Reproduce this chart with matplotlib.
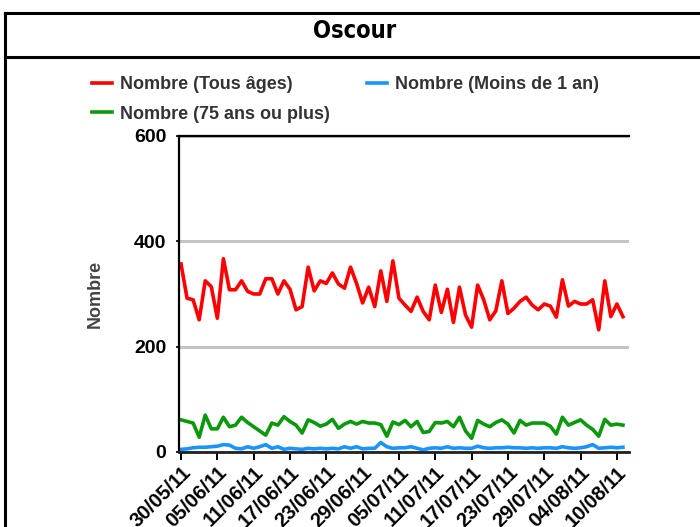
import numpy as np
import pandas as pd
import matplotlib
matplotlib.use("Agg")
import matplotlib.pyplot as plt
import matplotlib.dates as mdates
from matplotlib.lines import Line2D

plt.rcParams['font.family'] = ['Liberation Sans', 'DejaVu Sans']

# donnees journalieres, 30/05/11 -> 11/08/11
dates = pd.date_range('2011-05-30', periods=74, freq='D')

tous_ages = [357, 292, 289, 251, 325, 314, 254, 367, 308, 308,
             325, 305, 300, 300, 329, 329, 300, 325, 309, 270,
             276, 351, 306, 325, 320, 340, 319, 311, 351, 320,
             283, 313, 276, 344, 286, 363, 292,
             279, 267, 294, 267, 251, 317, 265, 309, 246, 313,
             260, 237, 317, 289, 251, 268, 325, 263, 273, 286,
             294, 279, 270, 281, 277, 256, 327, 277, 286, 281,
             281, 289, 232, 325, 257, 281, 257]

plus_75 = [61, 58, 55, 28, 70, 44, 44, 66, 48, 51,
           66, 56, 48, 40, 32, 55, 51, 67, 58, 51,
           36, 61, 56, 49, 53, 62, 45, 53, 58, 53,
           58, 55, 55, 52, 30, 57, 52,
           60, 48, 58, 37, 39, 56, 55, 58, 48, 66,
           40, 26, 60, 53, 48, 56, 61, 53, 36, 60,
           51, 55, 55, 55, 49, 34, 66, 51, 56, 61,
           51, 43, 30, 62, 51, 53, 51]

moins_1an = [5, 6, 8, 9, 9, 10, 11, 14, 13, 7,
             6, 10, 7, 10, 14, 7, 10, 5, 7, 6,
             5, 7, 6, 7, 6, 7, 6, 10, 7, 10,
             6, 7, 7, 18, 10, 7, 8,
             8, 10, 7, 4, 7, 8, 7, 10, 7, 8,
             7, 7, 11, 8, 7, 8, 8, 9, 8, 8,
             7, 8, 7, 8, 8, 7, 10, 8, 7, 8,
             10, 14, 7, 8, 9, 8, 9]

y_ticks = [0, 200, 400, 600]

fig = plt.figure(figsize=(7, 5.27), dpi=100)
ax = fig.add_axes([179/700, 1-452/527, 450/700, 316/527])

l1, = ax.plot(dates, tous_ages, color='#ff0000', lw=2.6, label='Nombre (Tous âges)')
l3, = ax.plot(dates, moins_1an, color='#1a94ff', lw=2.6, label='Nombre (Moins de 1 an)')
l2, = ax.plot(dates, plus_75, color='#0a990a', lw=2.6, label='Nombre (75 ans ou plus)')

ax.set_ylim(0, 600)
ax.set_yticks(y_ticks)
ax.set_xlim(dates[0] - pd.Timedelta(hours=8), dates[0] + pd.Timedelta(days=74))
ax.set_xticks(dates[::6])
ax.xaxis.set_major_formatter(mdates.DateFormatter('%d/%m/%y'))

ax.grid(axis='y', color='#c4c4c4', lw=2.2)
ax.set_axisbelow(True)
ax.spines['right'].set_visible(False)
ax.spines['left'].set_linewidth(1.6)
ax.spines['top'].set_linewidth(1.6)
ax.spines['bottom'].set_linewidth(2.0)
ax.spines['bottom'].set_color('#222222')

ax.tick_params(axis='x', direction='out', length=6, width=1.4, pad=2)
ax.tick_params(axis='y', length=2, width=1.2, pad=7)
for t in ax.get_yticklabels():
    t.set_fontsize(14)
    t.set_fontweight('bold')
for t in ax.get_xticklabels():
    t.set_fontsize(14.5)
    t.set_fontweight('bold')
    t.set_rotation(45)
    t.set_ha('right')
    t.set_va('top')
    t.set_rotation_mode('anchor')

fig.text(95/700, 1-294/527, 'Nombre', rotation=90, ha='center', va='center',
         fontsize=13, fontweight='bold', color='#444444')

# legende: ordre pour avoir 2 colonnes comme l'original
fig.legend([l1, l2, l3], [l1.get_label(), l2.get_label(), l3.get_label()],
           ncol=2, loc='upper left', bbox_to_anchor=(92/700, 1-76/527),
           frameon=False, borderpad=0, borderaxespad=0,
           handlelength=1.1, handletextpad=0.45, columnspacing=2.05,
           labelspacing=0.7,
           prop={'size': 13, 'weight': 'bold'}, labelcolor='#333333')

# cadre du titre
fig.add_artist(Line2D([5/700, 1], [1-13/527, 1-13/527], color='black', lw=2.2,
                      transform=fig.transFigure))
fig.add_artist(Line2D([5/700, 1], [1-57/527, 1-57/527], color='black', lw=2.2,
                      transform=fig.transFigure))
fig.add_artist(Line2D([5/700, 5/700], [1-13/527, 0], color='black', lw=2.2,
                      transform=fig.transFigure))
fig.text(355/700, 1-31/527, 'Oscour', ha='center', va='center',
         fontsize=17, fontweight='bold', fontstretch='condensed',
         family='DejaVu Sans')

fig.savefig('out.png', dpi=100)
